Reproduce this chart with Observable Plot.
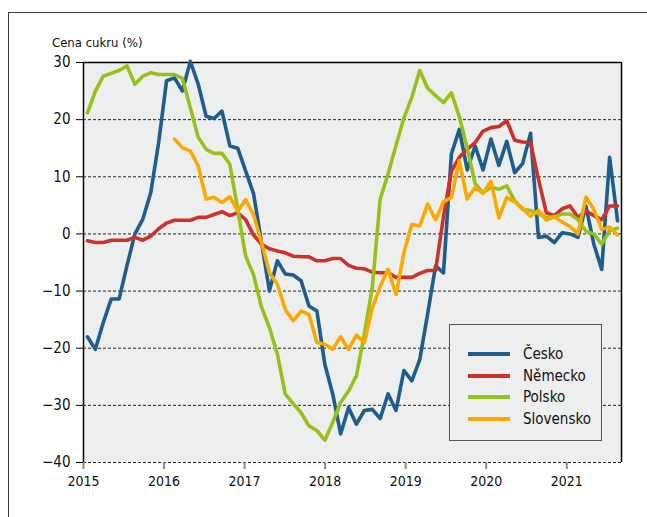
<!DOCTYPE html>
<html><head><meta charset="utf-8">
<script src="https://cdn.jsdelivr.net/npm/d3@7"></script>
<script src="https://cdn.jsdelivr.net/npm/@observablehq/plot@0.6"></script>
<style>
body{margin:0;background:#fff;}
#wrap{position:relative;width:647px;height:517px;overflow:hidden;font-family:"Liberation Sans Narrow","Arial Narrow","DejaVu Sans Condensed",sans-serif;color:#111;}
#frame{position:absolute;left:8px;top:12px;width:700px;height:600px;border-left:1.5px solid #3a3a3a;border-top:1.5px solid #3a3a3a;}
#title{position:absolute;left:52px;top:36px;font-size:13px;line-height:14px;white-space:nowrap;}
#chart{position:absolute;left:0;top:0;}
#legend{position:absolute;left:449px;top:324px;width:153px;height:117px;border:1.5px solid #555;background:#edefee;box-sizing:border-box;}
.row{position:absolute;left:18px;height:20px;display:flex;align-items:center;font-size:15px;white-space:nowrap;}
.sw{width:42px;height:4px;margin-right:13px;}
</style></head>
<body>
<div id="wrap">
  <div id="frame"></div>
  <div id="chart"></div>
  <div id="title">Cena cukru (%)</div>
  <div id="legend"></div>
</div>
<script>
const seriesNames = ["Česko", "Německo", "Polsko", "Slovensko"];
const seriesColors = ["#1f5d8e", "#d0302a", "#97c01a", "#f9a900"];
const yearTicks = [2015, 2016, 2017, 2018, 2019, 2020, 2021];
const yTicks = [-40, -30, -20, -10, 0, 10, 20, 30];
// observations per axis year, as spaced in the source chart
const obsPerYear = 10.18;

const cesko = [-18,-20.2,-15.5,-11.4,-11.4,-5.5,0,2.6,7.2,16,26.8,27.3,25,30.2,26.2,20.6,20.2,21.5,15.4,15,11,7,-1.5,-10,-4.7,-7,-7.2,-8.2,-12.6,-13.5,-22.8,-28,-35,-30.4,-33.3,-30.9,-30.7,-32.3,-28,-30.9,-23.9,-25.7,-22,-14,-5.6,-6.8,14,18.3,11.2,15.4,11.2,16.6,12,16.2,10.7,12.3,17.6,-0.6,-0.4,-1.5,0.2,0,-0.6,4.9,-1.8,-6.2,13.4,2.3];
const nemecko = [-1.2,-1.5,-1.5,-1.1,-1.1,-1.1,-0.6,-1.1,-0.4,0.9,1.9,2.4,2.4,2.4,2.9,2.9,3.4,3.9,3.2,3.7,2.5,-0.2,-1.8,-2.6,-3,-3.3,-3.9,-4,-4,-4.7,-4.7,-4.3,-4.3,-5.5,-6,-6.1,-6.7,-6.8,-6.8,-7.6,-7.6,-7.6,-6.9,-6.4,-6.4,3,11,13.4,14.8,16,18,18.6,18.8,19.8,16.4,16.1,16,9.6,3.7,3.2,4.4,4.9,2.9,4,3.2,2.5,4.9,4.9];
const polsko = [21.2,25,27.6,28.1,28.6,29.4,26.2,27.6,28.2,27.9,27.9,27.9,27.2,22.1,16.9,14.8,14.1,14.1,12.2,4.2,-3.9,-7.2,-12.8,-16.4,-21,-28,-29.7,-31.3,-33.6,-34.4,-36.1,-33,-29.5,-27.5,-24.8,-17.5,-9.4,6.1,10.5,15.5,20.3,23.9,28.6,25.5,24.2,23,24.7,20.5,15,8.8,7.2,8.2,7.8,8.4,5.8,4.3,4.1,3.5,2.9,3,3.5,3.5,2.5,0.5,0,-1.8,0.6,1];
const slovensko = [null,null,null,null,null,null,null,null,null,null,null,16.6,15.1,14.5,11.9,6.1,6.4,5.5,6.5,4,6,3.3,-1.5,-6.8,-8.8,-13.2,-15.2,-13.5,-14.1,-19,-19.3,-20.2,-18,-20.2,-17.7,-19,-13,-9.2,-6.2,-10.6,-3.3,1.7,1.4,5.2,2.5,5.6,6.4,12.8,6.1,8.1,7.1,9.2,2.8,6.4,5.6,4.5,3.1,4.1,2.4,3,2.1,1.3,0,6.4,4.3,0.8,1.2,-0.2];

const seriesValues = [cesko, nemecko, polsko, slovensko];
const data = [];
seriesValues.forEach((vals, k) => {
  vals.forEach((v, i) => {
    if (v !== null) data.push({s: seriesNames[k], t: 2015 + (i + 0.5) / obsPerYear, v});
  });
});
const nObs = cesko.length;
const xMax = 2015 + nObs / obsPerYear;

const font = '"Liberation Sans Narrow","Arial Narrow","DejaVu Sans Condensed",sans-serif';
const chart = Plot.plot({
  width: 647, height: 517,
  marginLeft: 83, marginRight: 26, marginTop: 62, marginBottom: 55,
  style: {fontFamily: font, fontSize: "14px", color: "#111", background: "transparent", overflow: "visible"},
  x: {domain: [2015, xMax], label: null},
  y: {domain: [-40, 30], label: null},
  color: {domain: seriesNames, range: seriesColors},
  marks: [
    Plot.frame({fill: "#edefee", stroke: null}),
    Plot.ruleY(yTicks.filter(d => d < 30), {stroke: "#222", strokeWidth: 1, strokeDasharray: "3,2"}),
    Plot.ruleY([30], {stroke: "#000", strokeWidth: 1.5}),
    Plot.ruleX([xMax], {stroke: "#000", strokeWidth: 1.5}),
    Plot.axisX({ticks: yearTicks, tickSize: 7, stroke: "#8c8c8c", strokeWidth: 2, text: null, label: null}),
    Plot.axisX({ticks: yearTicks, tickSize: 0, tickPadding: 14, tickFormat: d => String(d), fontSize: 14, label: null}),
    Plot.axisY({ticks: yTicks, tickSize: 7, tickPadding: 6, fontSize: 15, label: null, stroke: "#000"}),
    Plot.ruleX([2015], {stroke: "#000", strokeWidth: 1.5}),
    Plot.line(data, {x: "t", y: "v", z: "s", stroke: "s", strokeWidth: 3.6})
  ]
});
document.getElementById("chart").appendChild(chart);

const legend = document.getElementById("legend");
seriesNames.forEach((name, k) => {
  const row = document.createElement("div");
  row.className = "row";
  row.style.top = (19 + k * 21.7) + "px";
  const sw = document.createElement("div");
  sw.className = "sw";
  sw.style.background = seriesColors[k];
  const tx = document.createElement("span");
  tx.textContent = name;
  row.appendChild(sw); row.appendChild(tx);
  legend.appendChild(row);
});
</script>
</body></html>
